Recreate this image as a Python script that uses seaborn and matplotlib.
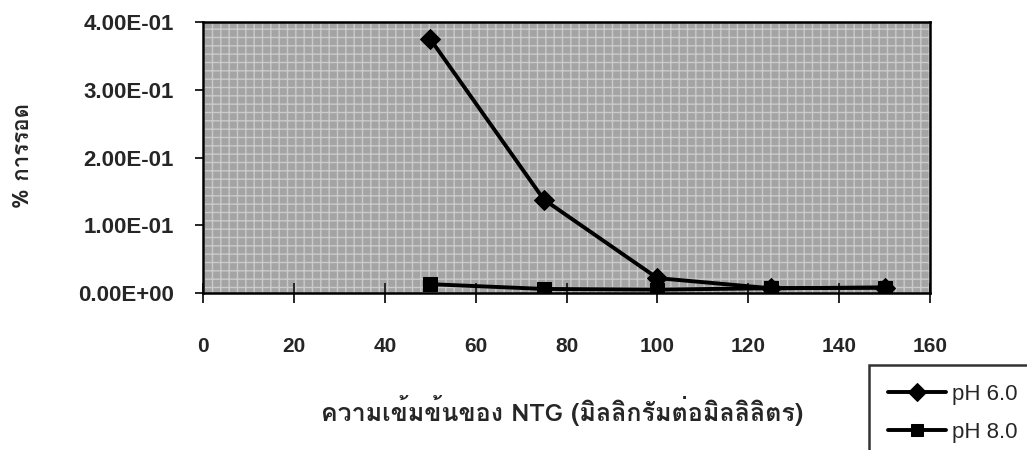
import matplotlib
matplotlib.use("Agg")
import matplotlib.pyplot as plt
from matplotlib import font_manager
from matplotlib.ft2font import FT2Font
import seaborn as sns
import pandas as pd

# ---- data ----
concentration = [50, 75, 100, 125, 150]
ph6_survival = [0.375, 0.138, 0.022, 0.007, 0.008]
ph8_survival = [0.013, 0.006, 0.005, 0.007, 0.008]
series_names = ["pH 6.0", "pH 8.0"]
x_ticks = [0, 20, 40, 60, 80, 100, 120, 140, 160]
y_ticks = [0.0, 0.1, 0.2, 0.3, 0.4]
x_label = "ความเข้มข้นของ NTG (มิลลิกรัมต่อมิลลิลิตร)"
y_label = "% การรอด"

df = pd.DataFrame({
    "x": concentration * 2,
    "y": ph6_survival + ph8_survival,
    "series": [series_names[0]] * len(concentration) + [series_names[1]] * len(concentration),
})

sns.set_style("white")

# find a font with Thai glyphs
thai_font = None
for f in font_manager.fontManager.ttflist:
    try:
        cm = FT2Font(f.fname).get_charmap()
        if 0x0E04 in cm and 0x0E21 in cm:
            thai_font = f.name
            break
    except Exception:
        pass
fams = ["Liberation Sans", "DejaVu Sans"]
thai_fams = ([thai_font] if thai_font else []) + fams
plt.rcParams["font.family"] = fams

fig = plt.figure(figsize=(10.27, 4.5), dpi=100)
ax = fig.add_axes([203 / 1027, 1 - 293 / 450, (930 - 203) / 1027, (293 - 22) / 450])

sns.lineplot(data=df, x="x", y="y", hue="series", style="series",
             markers={"pH 6.0": "D", "pH 8.0": "s"}, dashes=False,
             palette=["black", "black"], linewidth=2.8, markersize=10,
             markeredgecolor="black", ax=ax, legend=True)

ax.set_facecolor("#a4a4a4")
ax.patch.set_hatch("++")
ax.patch.set_edgecolor("#cbcbcb")
ax.patch.set_linewidth(0)
for s in ax.spines.values():
    s.set_visible(True)
    s.set_color("black")
    s.set_linewidth(1.8)

ax.set_xlim(0, 160)
ax.set_ylim(0, 0.4)
ax.set_xticks(x_ticks)
ax.set_yticks(y_ticks)
ax.set_yticklabels([f"{v:.2E}" for v in y_ticks])
ax.tick_params(axis="x", direction="inout", length=14, width=1.4, pad=25, labelsize=15)
ax.tick_params(axis="y", direction="out", length=6, width=1.4, pad=15, labelsize=16)
ax.tick_params(left=True, bottom=True)
for lab in ax.get_xticklabels() + ax.get_yticklabels():
    lab.set_fontweight("bold")

ax.set_xlabel("")
ax.set_ylabel("")
fig.text(562 / 1027, 1 - 410 / 450, x_label, ha="center", va="center",
         fontsize=18, fontweight="bold", family=thai_fams)
fig.text(23 / 1027, 1 - 155 / 450, y_label, ha="center", va="center", rotation=90,
         fontsize=16, fontweight="bold", family=thai_fams)

handles, labels = ax.get_legend_handles_labels()
for h in handles:
    h.set_markersize(9)
ax.get_legend().remove()
leg = fig.legend(handles, labels, loc="upper left", bbox_to_anchor=(869 / 1027, 1 - 365 / 450),
                 frameon=True, fancybox=False, edgecolor="black", fontsize=16,
                 handlelength=2.6, handletextpad=0.3, borderpad=0.85, labelspacing=0.75,
                 borderaxespad=0)
leg.get_frame().set_linewidth(1.8)

fig.savefig("out.png", dpi=100)
